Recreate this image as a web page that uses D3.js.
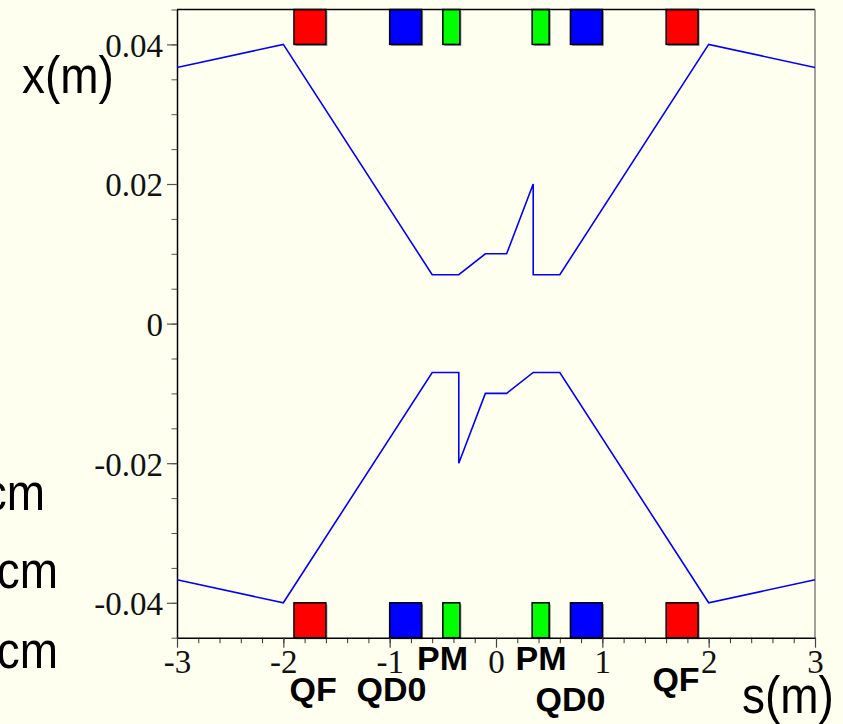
<!DOCTYPE html>
<html>
<head>
<meta charset="utf-8">
<script src="https://cdn.jsdelivr.net/npm/d3@7"></script>
<style>
  html, body { margin: 0; padding: 0; background: #fffff0; }
  svg { display: block; }
  .tick text { font-family: "Liberation Serif", "Times New Roman", serif; }
</style>
</head>
<body>
<svg id="chart" width="843" height="724"></svg>
<script>
// beam envelope (upper and lower edge), s in m, x in m
var upperS = [-3, -2, -0.6, -0.35, -0.1, 0.1, 0.35, 0.35, 0.6, 2, 3];
var upperX = [0.0367, 0.04, 0.007, 0.007, 0.01, 0.01, 0.02, 0.007, 0.007, 0.04, 0.0367];
var lowerS = [-3, -2, -0.6, -0.35, -0.35, -0.1, 0.1, 0.35, 0.6, 2, 3];
var lowerX = [-0.0367, -0.04, -0.007, -0.007, -0.02, -0.01, -0.01, -0.007, -0.007, -0.04, -0.0367];

// magnets along the beam line
var magnetNames = ["QF", "QD0", "PM", "PM", "QD0", "QF"];
var magnetStart = [-1.9, -1.0, -0.5, 0.34, 0.7, 1.6];
var magnetEnd = [-1.6, -0.7, -0.34, 0.5, 1.0, 1.9];
var magnetColors = {QF: "#ff0000", QD0: "#0000ff", PM: "#00ff00"};

// magnet labels under the axis
var labelText = ["PM", "PM", "QF", "QD0", "QD0", "QF"];
var labelS = [-0.503, 0.423, -1.72, -0.983, 0.701, 1.693];
var labelRow = [670, 670, 701, 701, 711, 691];

// axis ticks
var xMajor = [-3, -2, -1, 0, 1, 2, 3];
var xLabels = ["-3", "-2", "-1", "0", "1", "2", "3"];
var yMajor = [0.04, 0.02, 0, -0.02, -0.04];
var yLabels = ["0.04", "0.02", "0", "-0.02", "-0.04"];

var svg = d3.select("#chart");

var x = d3.scaleLinear().domain([-3, 3]).range([177, 815]);
var y = d3.scaleLinear().domain([-0.045, 0.045]).range([637.7, 9.5]);

/*
 * magnets, top and bottom rows with a little drop shadow
 */
function drawMagnets(y0, y1) {
    var g = svg.append("g");
    magnetNames.forEach(function(name, i) {
        var x0 = x(magnetStart[i]), w = x(magnetEnd[i]) - x0,
            top = y(y1), h = y(y0) - y(y1);
        g.append("rect")
            .attr("x", x0 + 1.5).attr("y", top + 1.5)
            .attr("width", w).attr("height", h)
            .attr("fill", "#8a8a8a");
        g.append("rect")
            .attr("x", x0).attr("y", top)
            .attr("width", w).attr("height", h)
            .attr("fill", magnetColors[name])
            .attr("stroke", "#000")
            .attr("stroke-width", 1.5);
    });
}
drawMagnets(0.04, 0.045);
drawMagnets(-0.045, -0.04);

// frame: top black, right gray
svg.append("line")
    .attr("x1", x(-3)).attr("x2", x(3))
    .attr("y1", y(0.045)).attr("y2", y(0.045))
    .attr("stroke", "#000").attr("stroke-width", 1.5);
svg.append("line")
    .attr("x1", x(3)).attr("x2", x(3))
    .attr("y1", y(0.045)).attr("y2", y(-0.045))
    .attr("stroke", "#808080").attr("stroke-width", 1.5);

// minor ticks
var yMinor = d3.range(-9, 10).map(function(k) { return k * 0.005; });
var xMinor = d3.range(-15, 16).map(function(k) { return k * 0.2; });

svg.append("g")
    .attr("transform", "translate(" + x(-3) + ",0)")
    .call(d3.axisLeft(y).tickValues(yMinor).tickSize(5.5).tickSizeOuter(0).tickFormat(""))
    .call(function(g) { g.select(".domain").remove(); g.selectAll("line").attr("stroke", "#555"); });
svg.append("g")
    .attr("transform", "translate(0," + y(-0.045) + ")")
    .call(d3.axisBottom(x).tickValues(xMinor).tickSize(5.5).tickSizeOuter(0).tickFormat(""))
    .call(function(g) { g.select(".domain").remove(); g.selectAll("line").attr("stroke", "#333"); });

// major axes
var yAxis = svg.append("g")
    .attr("transform", "translate(" + x(-3) + ",0)")
    .call(d3.axisLeft(y).tickValues(yMajor).tickSize(10).tickSizeOuter(0).tickPadding(4)
        .tickFormat(function(d, i) { return yLabels[i]; }));
yAxis.select(".domain").attr("stroke", "#000").attr("stroke-width", 1.5);
yAxis.selectAll("line").attr("stroke", "#555").attr("stroke-width", 1.2);
yAxis.selectAll("text").attr("font-size", 33).attr("fill", "#111").attr("dy", "0.36em");

var xAxis = svg.append("g")
    .attr("transform", "translate(0," + y(-0.045) + ")")
    .call(d3.axisBottom(x).tickValues(xMajor).tickSize(10).tickSizeOuter(0).tickPadding(2)
        .tickFormat(function(d, i) { return xLabels[i]; }));
xAxis.select(".domain").attr("stroke", "#000").attr("stroke-width", 1.5);
xAxis.selectAll("line").attr("stroke", "#444").attr("stroke-width", 1.2);
xAxis.selectAll("text").attr("font-size", 33).attr("fill", "#111");

// envelope
var line = d3.line()
    .x(function(d) { return x(d[0]); })
    .y(function(d) { return y(d[1]); });

svg.append("path")
    .datum(d3.zip(upperS, upperX))
    .attr("d", line)
    .attr("fill", "none").attr("stroke", "#0000ff").attr("stroke-width", 1.6);
svg.append("path")
    .datum(d3.zip(lowerS, lowerX))
    .attr("d", line)
    .attr("fill", "none").attr("stroke", "#0000ff").attr("stroke-width", 1.6);

// magnet labels
labelText.forEach(function(t, i) {
    svg.append("text")
        .attr("x", x(labelS[i])).attr("y", labelRow[i])
        .attr("text-anchor", "middle")
        .attr("font-family", "'Liberation Sans', Arial, sans-serif")
        .attr("font-weight", "bold")
        .attr("font-size", 34)
        .attr("fill", "#000")
        .text(t);
});

/*
 * big sans labels, drawn a bit taller than wide
 */
function bigText(tx, ty, anchor, txt) {
    svg.append("text")
        .attr("transform", "translate(" + tx + "," + ty + ") scale(1,1.12)")
        .attr("text-anchor", anchor)
        .attr("font-family", "'Liberation Sans', Arial, sans-serif")
        .attr("font-size", 46)
        .attr("fill", "#000")
        .text(txt);
}
bigText(22, 93, "start", "x(m)");
bigText(742, 713, "start", "s(m)");
bigText(45, 510, "end", "cm");
bigText(58, 588, "end", "cm");
bigText(58, 668, "end", "cm");
</script>
</body>
</html>
